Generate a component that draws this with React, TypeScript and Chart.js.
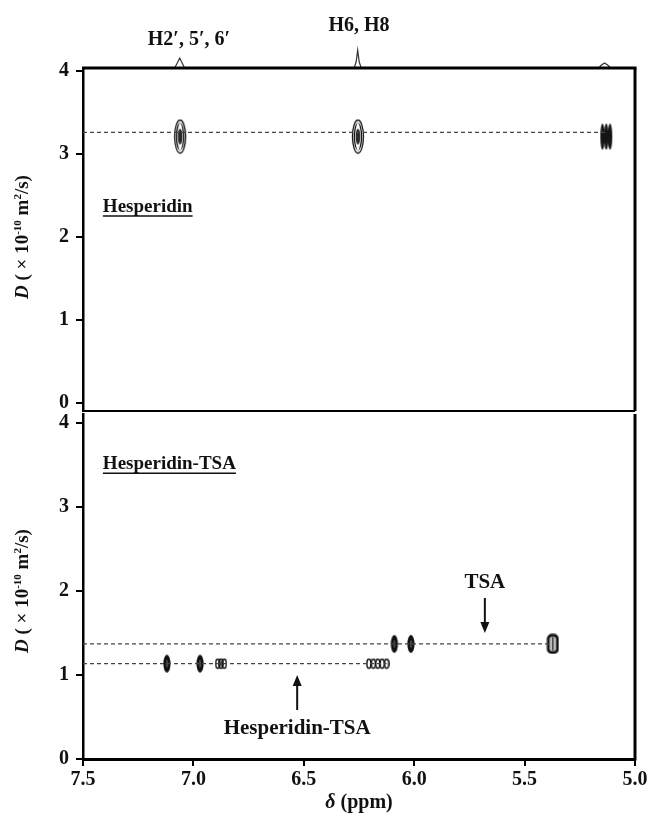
import React, { useEffect, useRef } from 'react';
import { Chart, registerables } from 'chart.js';

Chart.register(...registerables);

// ---------------- data ----------------
const xTickValues = [7.5, 7.0, 6.5, 6.0, 5.5, 5.0];
const yTickValues = [0, 1, 2, 3, 4];

// 1D projection spectrum on top of the upper panel (a.u. above baseline)
const spectrumPpm = [7.5, 7.085, 7.073, 7.062, 7.051, 7.04, 6.272, 6.263, 6.256, 6.249, 6.24, 5.165, 5.152, 5.138, 5.124, 5.11, 5.0];
const spectrumIntensity = [0, 0, 5, 10, 5, 0, 0, 6, 18, 6, 0, 0, 3, 5, 3, 0, 0];
const peakLabels = ['H2′, 5′, 6′', 'H6, H8'];

// upper panel: free hesperidin
const hespContourPpm = [7.06, 6.255];
const hespContourD = [3.21, 3.21];
const hespBandPpm = [5.13];
const hespBandD = [3.21];
const hespLinePpm = [7.5, 5.13];
const hespLineD = [3.26, 3.26];

// lower panel: hesperidin-TSA complex
const cplxFilledPpm = [7.12, 6.97];
const cplxFilledD = [1.135, 1.135];
const cplxSmallPpm = [6.89, 6.875, 6.86, 6.205, 6.185, 6.165, 6.145, 6.125];
const cplxSmallD = [1.135, 1.135, 1.135, 1.135, 1.135, 1.135, 1.135, 1.135];
const cplxLinePpm = [7.5, 6.125];
const cplxLineD = [1.135, 1.135];

// lower panel: TSA
const tsaFilledPpm = [6.09, 6.015];
const tsaFilledD = [1.37, 1.37];
const tsaOpenPpm = [5.372];
const tsaOpenD = [1.37];
const tsaLinePpm = [7.5, 5.372];
const tsaLineD = [1.37, 1.37];

// ---------------- styling ----------------
const FONT = '"Liberation Serif", "Times New Roman", serif';
const INK = '#111';
const TOP_YMIN = -0.0955;
const TOP_YMAX = 4.036;
const SPEC_UNIT = 1 / 83.75;
const BOT_YMIN = 0;
const BOT_YMAX = 4.107;

const pts = (xs: number[], ys: number[]) => xs.map((x, i) => ({ x, y: ys[i] }));

function makeMarker(w: number, h: number, draw: (c: CanvasRenderingContext2D) => void) {
  const cv = document.createElement('canvas');
  cv.width = w;
  cv.height = h;
  const c = cv.getContext('2d')!;
  draw(c);
  return cv;
}

function ell(c: CanvasRenderingContext2D, x: number, y: number, rx: number, ry: number) {
  c.beginPath();
  c.ellipse(x, y, rx, ry, 0, 0, Math.PI * 2);
}

function drawRich(ctx: CanvasRenderingContext2D, parts: { t: string; f: string; dy?: number }[], cx: number, cy: number) {
  let total = 0;
  for (const p of parts) {
    ctx.font = p.f;
    total += ctx.measureText(p.t).width;
  }
  let x = cx - total / 2;
  ctx.textAlign = 'left';
  ctx.textBaseline = 'alphabetic';
  for (const p of parts) {
    ctx.font = p.f;
    ctx.fillText(p.t, x, cy + (p.dy || 0));
    x += ctx.measureText(p.t).width;
  }
}

function yTitle(ctx: CanvasRenderingContext2D, cx: number, cy: number) {
  ctx.save();
  ctx.translate(cx, cy);
  ctx.rotate(-Math.PI / 2);
  ctx.fillStyle = INK;
  drawRich(ctx, [
    { t: 'D', f: `italic bold 19px ${FONT}` },
    { t: ' ( × 10', f: `bold 19px ${FONT}` },
    { t: '-10', f: `bold 11px ${FONT}`, dy: -7 },
    { t: ' m', f: `bold 19px ${FONT}` },
    { t: '2', f: `bold 11px ${FONT}`, dy: -7 },
    { t: '/s)', f: `bold 19px ${FONT}` },
  ], 0, 6);
  ctx.restore();
}

function txt(ctx: CanvasRenderingContext2D, s: string, x: number, y: number, size: number, align: CanvasTextAlign = 'center', underline = false) {
  ctx.font = `bold ${size}px ${FONT}`;
  ctx.textAlign = align;
  ctx.textBaseline = 'alphabetic';
  ctx.fillStyle = INK;
  ctx.fillText(s, x, y);
  if (underline) {
    const w = ctx.measureText(s).width;
    const x0 = align === 'left' ? x : x - w / 2;
    ctx.strokeStyle = INK;
    ctx.lineWidth = 1.5;
    ctx.beginPath();
    ctx.moveTo(x0, y + 4);
    ctx.lineTo(x0 + w, y + 4);
    ctx.stroke();
  }
}

function line(ctx: CanvasRenderingContext2D, x0: number, y0: number, x1: number, y1: number, w: number) {
  ctx.lineWidth = w;
  ctx.beginPath();
  ctx.moveTo(x0, y0);
  ctx.lineTo(x1, y1);
  ctx.stroke();
}

function arrow(ctx: CanvasRenderingContext2D, x: number, yTail: number, yHead: number) {
  const dir = Math.sign(yHead - yTail);
  ctx.strokeStyle = INK;
  ctx.fillStyle = INK;
  line(ctx, x, yTail, x, yHead - dir * 8, 2);
  ctx.beginPath();
  ctx.moveTo(x, yHead);
  ctx.lineTo(x - 4.5, yHead - dir * 11);
  ctx.lineTo(x + 4.5, yHead - dir * 11);
  ctx.closePath();
  ctx.fill();
}

function yScale(min: number, max: number) {
  return {
    type: 'linear' as const,
    min,
    max,
    afterBuildTicks: (s: any) => {
      s.ticks = yTickValues.map((v) => ({ value: v }));
    },
    afterFit: (s: any) => {
      s.width = 83;
    },
    ticks: {
      font: { family: FONT, size: 20, weight: 'bold' as const },
      color: INK,
      padding: 7,
      callback: (v: any) => String(v),
    },
    grid: { drawOnChartArea: false, drawTicks: true, tickLength: 7, lineWidth: 2, color: '#000' },
    border: { display: true, width: 2.5, color: '#000' },
  };
}

export default function App() {
  const topRef = useRef<HTMLCanvasElement>(null);
  const botRef = useRef<HTMLCanvasElement>(null);

  useEffect(() => {
    const contourImg = makeMarker(14, 36, (c) => {
      c.strokeStyle = '#111';
      c.lineWidth = 1.3;
      ell(c, 7, 18, 5.5, 16.5);
      c.stroke();
      ell(c, 7, 18, 3.6, 13);
      c.stroke();
      c.fillStyle = '#2a2a2a';
      ell(c, 7, 18, 2.3, 8);
      c.fill();
      c.fillStyle = '#fff';
      ell(c, 7, 7.5, 1.4, 3);
      c.fill();
      ell(c, 7, 28.5, 1.4, 3);
      c.fill();
    });
    const bandImg = makeMarker(14, 30, (c) => {
      c.fillStyle = '#151515';
      for (const x of [3.2, 7, 10.8]) {
        ell(c, x, 15, 2.2, 13);
        c.fill();
      }
    });
    const filledImg = makeMarker(10, 20, (c) => {
      c.fillStyle = '#111';
      ell(c, 5, 10, 3.6, 9);
      c.fill();
      c.fillStyle = '#444';
      ell(c, 5, 10, 1.2, 4);
      c.fill();
    });
    const smallImg = makeMarker(6, 12, (c) => {
      c.strokeStyle = '#111';
      c.lineWidth = 1.5;
      ell(c, 3, 6, 2.1, 4.6);
      c.stroke();
    });
    const openImg = makeMarker(13, 21, (c) => {
      c.fillStyle = '#bbb';
      c.fillRect(4, 4, 5, 13);
      c.strokeStyle = '#111';
      c.lineWidth = 2.8;
      c.beginPath();
      (c as any).roundRect(2, 2, 9, 17, 3);
      c.stroke();
      c.lineWidth = 1;
      c.beginPath();
      c.moveTo(6.5, 4);
      c.lineTo(6.5, 17);
      c.stroke();
    });

    const dashed = (xs: number[], ys: number[]) => ({
      type: 'line' as const,
      data: pts(xs, ys),
      borderColor: '#444',
      borderWidth: 1.2,
      borderDash: [4, 3],
      pointRadius: 0,
      showLine: true,
    });
    const markers = (xs: number[], ys: number[], img: HTMLCanvasElement) => ({
      type: 'scatter' as const,
      data: pts(xs, ys),
      pointStyle: img,
      pointRadius: 6,
      showLine: false,
    });

    const topPlugin = {
      id: 'topDecor',
      afterDraw(chart: any) {
        const { ctx, chartArea: a, scales } = chart;
        const x = scales.x;
        const y = scales.y;
        ctx.save();
        ctx.strokeStyle = '#000';
        line(ctx, a.left - 1, a.top, a.right + 1.5, a.top, 3);
        line(ctx, a.right, a.top, a.right, a.bottom, 3);
        line(ctx, a.left, a.bottom, a.right, a.bottom, 2);
        txt(ctx, peakLabels[0], x.getPixelForValue(7.02), y.getPixelForValue(4.31), 20);
        txt(ctx, peakLabels[1], x.getPixelForValue(6.25), y.getPixelForValue(4.478), 20);
        txt(ctx, 'Hesperidin', x.getPixelForValue(7.41), y.getPixelForValue(2.3), 19, 'left', true);
        yTitle(ctx, 22, (y.getPixelForValue(0) + y.getPixelForValue(4)) / 2);
        ctx.restore();
      },
    };

    const botPlugin = {
      id: 'botDecor',
      afterDraw(chart: any) {
        const { ctx, chartArea: a, scales } = chart;
        const x = scales.x;
        const y = scales.y;
        ctx.save();
        ctx.strokeStyle = '#000';
        line(ctx, a.right, a.top, a.right, a.bottom + 1.5, 3);
        txt(ctx, 'Hesperidin-TSA', x.getPixelForValue(7.41), y.getPixelForValue(3.45), 19, 'left', true);
        txt(ctx, 'TSA', x.getPixelForValue(5.68), y.getPixelForValue(2.036), 21);
        arrow(ctx, x.getPixelForValue(5.68), y.getPixelForValue(1.917), y.getPixelForValue(1.5));
        arrow(ctx, x.getPixelForValue(6.53), y.getPixelForValue(0.583), y.getPixelForValue(1.0));
        txt(ctx, 'Hesperidin-TSA', x.getPixelForValue(6.53), y.getPixelForValue(0.3), 21);
        yTitle(ctx, 22, (y.getPixelForValue(0) + y.getPixelForValue(4)) / 2);
        ctx.fillStyle = INK;
        drawRich(ctx, [
          { t: 'δ', f: `italic bold 20px ${FONT}` },
          { t: ' (ppm)', f: `bold 20px ${FONT}` },
        ], (a.left + a.right) / 2, chart.height - 5);
        ctx.restore();
      },
    };

    const topChart = new Chart(topRef.current!, {
      type: 'scatter',
      data: {
        datasets: [
          {
            type: 'line',
            data: spectrumPpm.map((p, i) => ({ x: p, y: TOP_YMAX + spectrumIntensity[i] * SPEC_UNIT })),
            borderColor: '#333',
            borderWidth: 1.2,
            pointRadius: 0,
            clip: false,
            tension: 0,
          } as any,
          dashed(hespLinePpm, hespLineD) as any,
          markers(hespContourPpm, hespContourD, contourImg) as any,
          markers(hespBandPpm, hespBandD, bandImg) as any,
        ],
      },
      options: {
        animation: false,
        responsive: false,
        maintainAspectRatio: false,
        events: [],
        layout: { padding: { top: 68, bottom: 16, left: 0, right: 17 } },
        plugins: { legend: { display: false }, tooltip: { enabled: false } },
        scales: {
          x: { type: 'linear', reverse: true, min: 5.0, max: 7.5, display: false },
          y: yScale(TOP_YMIN, TOP_YMAX) as any,
        },
      },
      plugins: [topPlugin],
    });

    const botChart = new Chart(botRef.current!, {
      type: 'scatter',
      data: {
        datasets: [
          dashed(tsaLinePpm, tsaLineD) as any,
          dashed(cplxLinePpm, cplxLineD) as any,
          markers(cplxFilledPpm, cplxFilledD, filledImg) as any,
          markers(cplxSmallPpm, cplxSmallD, smallImg) as any,
          markers(tsaFilledPpm, tsaFilledD, filledImg) as any,
          markers(tsaOpenPpm, tsaOpenD, openImg) as any,
        ],
      },
      options: {
        animation: false,
        responsive: false,
        maintainAspectRatio: false,
        events: [],
        layout: { padding: { top: 34, bottom: 0, left: 0, right: 17 } },
        plugins: { legend: { display: false }, tooltip: { enabled: false } },
        scales: {
          x: {
            type: 'linear',
            reverse: true,
            min: 5.0,
            max: 7.5,
            afterBuildTicks: (s: any) => {
              s.ticks = xTickValues.map((v) => ({ value: v }));
            },
            afterFit: (s: any) => {
              s.height = 54;
            },
            ticks: {
              font: { family: FONT, size: 20, weight: 'bold' },
              color: INK,
              padding: 2,
              maxRotation: 0,
              autoSkip: false,
              callback: (v: any) => Number(v).toFixed(1),
            },
            grid: { drawOnChartArea: false, drawTicks: true, tickLength: 7, lineWidth: 2, color: '#000' },
            border: { display: true, width: 3, color: '#000' },
          } as any,
          y: yScale(BOT_YMIN, BOT_YMAX) as any,
        },
      },
      plugins: [botPlugin],
    });

    return () => {
      topChart.destroy();
      botChart.destroy();
    };
  }, []);

  return (
    <div style={{ position: 'absolute', left: 0, top: 0, width: 652, height: 813, background: '#fff' }}>
      <canvas ref={topRef} width={652} height={430} style={{ position: 'absolute', left: 0, top: 0, width: 652, height: 430 }} />
      <canvas ref={botRef} width={652} height={433} style={{ position: 'absolute', left: 0, top: 380, width: 652, height: 433 }} />
    </div>
  );
}
